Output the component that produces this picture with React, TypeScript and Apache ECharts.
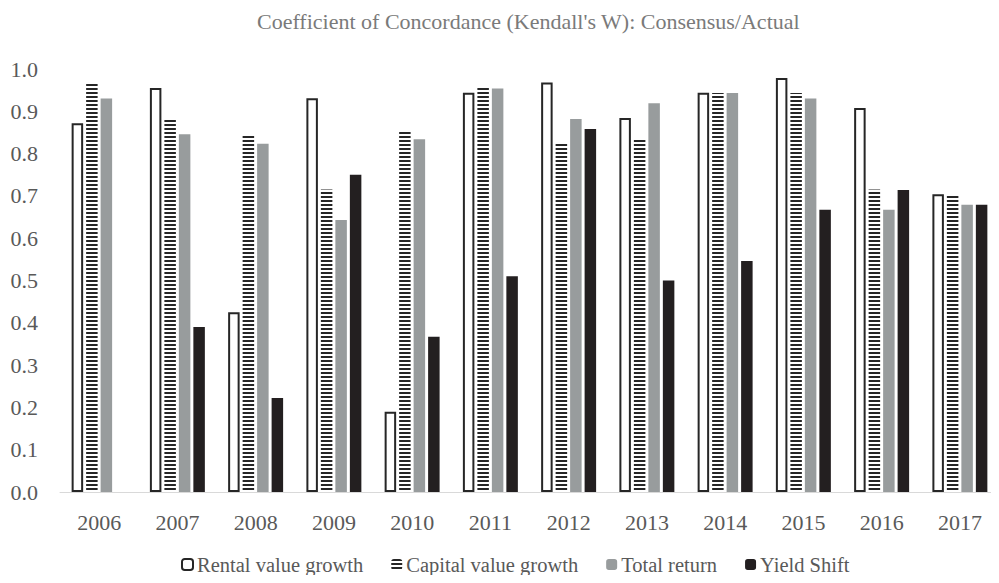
import React, { useEffect, useRef } from "react";
import * as echarts from "echarts";

const years = ["2006", "2007", "2008", "2009", "2010", "2011", "2012", "2013", "2014", "2015", "2016", "2017"];
const rentalValueGrowth = [0.872, 0.955, 0.425, 0.931, 0.19, 0.944, 0.968, 0.884, 0.944, 0.979, 0.908, 0.704];
const capitalValueGrowth = [0.967, 0.883, 0.846, 0.715, 0.854, 0.955, 0.823, 0.836, 0.943, 0.943, 0.715, 0.704];
const totalReturn = [0.93, 0.846, 0.823, 0.643, 0.834, 0.954, 0.882, 0.919, 0.943, 0.93, 0.667, 0.679];
const yieldShift: (number | null)[] = [null, 0.39, 0.222, 0.75, 0.367, 0.51, 0.858, 0.5, 0.546, 0.667, 0.714, 0.679];
const yTicks = ["0.0", "0.1", "0.2", "0.3", "0.4", "0.5", "0.6", "0.7", "0.8", "0.9", "1.0"];

const FONT = "'Liberation Serif', 'Times New Roman', serif";
const TEXT = "#595959";

export default function App() {
  const ref = useRef<HTMLDivElement>(null);
  useEffect(() => {
    if (!ref.current) return;
    const chart = echarts.init(ref.current, undefined, { renderer: "svg" });
    const barW = 11.5;
    chart.setOption({
      animation: false,
      backgroundColor: "#ffffff",
      textStyle: { fontFamily: FONT },
      title: {
        text: "Coefficient of Concordance (Kendall's W): Consensus/Actual",
        left: 252,
        top: 5,
        textStyle: { fontFamily: FONT, fontSize: 22, fontWeight: "normal", color: "#7a7a7a" },
      },
      grid: { left: 60, right: 0, top: 69, bottom: 91, containLabel: false },
      legend: {
        top: 549,
        left: 176,
        padding: 5,
        itemWidth: 11,
        itemHeight: 11,
        itemGap: 28,
        textStyle: { fontFamily: FONT, fontSize: 20.5, color: TEXT, padding: [0, 0, 0, -1] },
        data: ["Rental value growth", "Capital value growth", "Total return", "Yield Shift"],
      },
      xAxis: {
        type: "category",
        data: years,
        axisLine: { lineStyle: { color: "#d9d9d9", width: 1 } },
        axisTick: { show: false },
        axisLabel: { fontFamily: FONT, fontSize: 22, color: TEXT, margin: 19 },
      },
      yAxis: {
        type: "value",
        min: 0,
        max: 1,
        interval: 0.1,
        splitLine: { show: false },
        axisLine: { show: false },
        axisTick: { show: false },
        axisLabel: {
          fontFamily: FONT,
          fontSize: 22,
          color: TEXT,
          margin: 22,
          formatter: (v: number) => yTicks[Math.round(v * 10)] ?? v.toFixed(1),
        },
      },
      series: [
        {
          name: "Rental value growth",
          type: "bar",
          data: rentalValueGrowth,
          barWidth: barW,
          barGap: "26%",
          itemStyle: { color: "#ffffff", borderColor: "#262626", borderWidth: 2 },
        },
        {
          name: "Capital value growth",
          type: "bar",
          data: capitalValueGrowth,
          barWidth: barW,
          barGap: "26%",
          itemStyle: {
            color: "#ffffff",
            decal: {
              symbol: "rect",
              symbolSize: 1,
              color: "#262626",
              dashArrayX: [1, 0],
              dashArrayY: [2, 2],
              rotation: 0,
            },
          },
        },
        {
          name: "Total return",
          type: "bar",
          data: totalReturn,
          barWidth: barW,
          barGap: "26%",
          itemStyle: { color: "#989c9d" },
        },
        {
          name: "Yield Shift",
          type: "bar",
          data: yieldShift,
          barWidth: barW,
          barGap: "26%",
          itemStyle: { color: "#231f20" },
        },
      ],
    });
    return () => chart.dispose();
  }, []);
  return <div ref={ref} style={{ width: 999, height: 583, margin: -8 }} />;
}
